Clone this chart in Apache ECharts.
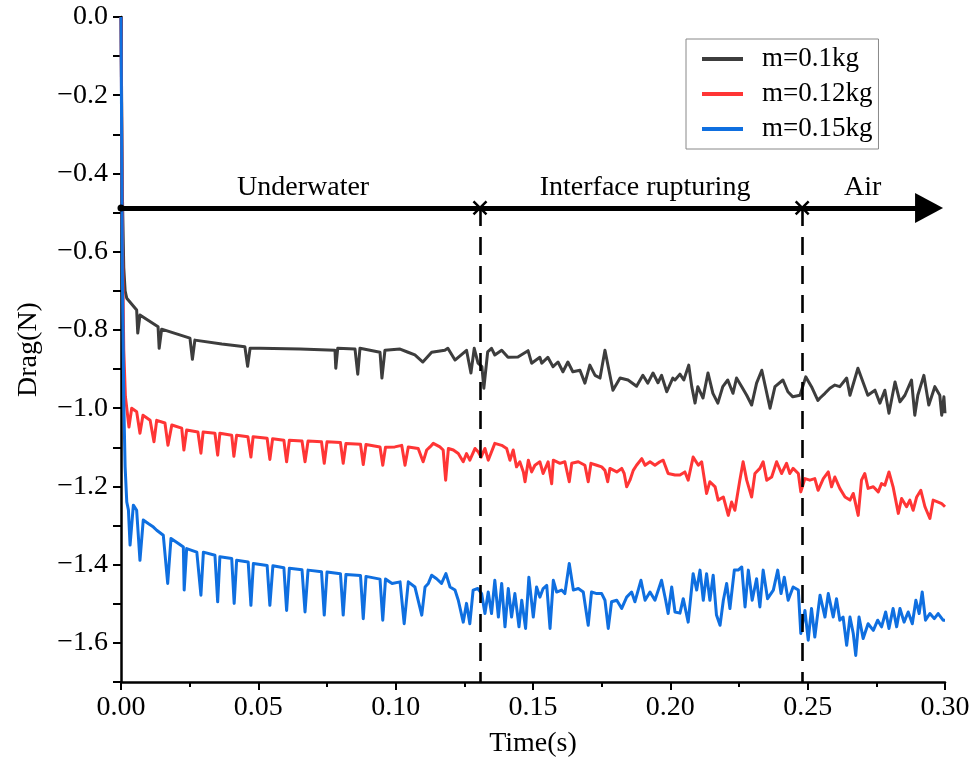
<!DOCTYPE html>
<html><head><meta charset="utf-8">
<script src="https://cdn.jsdelivr.net/npm/echarts@6/dist/echarts.min.js"></script>
<style>html,body{margin:0;padding:0;background:#fff}#c{width:980px;height:767px}</style>
</head><body><div id="c"></div>
<script>
const seriesNames = ['m=0.1kg', 'm=0.12kg', 'm=0.15kg'];
const seriesColors = ['#3d3d3d', '#ff3535', '#0f6fe0'];

const black = [
[0,0],[0.0005,-0.45],[0.0010,-0.64],[0.0015,-0.70],[0.0021,-0.719],[0.0057,-0.749],[0.0061,-0.808],[0.0069,-0.762],
[0.0135,-0.792],[0.0139,-0.847],[0.0148,-0.798],[0.0251,-0.821],[0.0260,-0.875],[0.0269,-0.826],[0.0367,-0.836],
[0.0451,-0.843],[0.0461,-0.893],[0.0470,-0.847],[0.0506,-0.847],[0.0652,-0.849],[0.0779,-0.852],[0.0782,-0.898],
[0.0789,-0.847],[0.0852,-0.849],[0.0862,-0.913],[0.0870,-0.847],[0.0943,-0.857],[0.0950,-0.923],[0.0961,-0.852],
[0.1016,-0.849],[0.1045,-0.857],[0.1070,-0.864],[0.1099,-0.882],[0.1131,-0.857],[0.1179,-0.852],[0.1190,-0.847],
[0.1216,-0.877],[0.1258,-0.852],[0.1274,-0.910],[0.1286,-0.847],[0.1300,-0.885],[0.1314,-0.894],[0.1321,-0.949],
[0.1335,-0.856],[0.1349,-0.847],[0.1361,-0.864],[0.1386,-0.852],[0.1409,-0.870],[0.1445,-0.869],[0.1482,-0.853],
[0.1495,-0.885],[0.1525,-0.870],[0.1532,-0.885],[0.1554,-0.870],[0.1573,-0.894],[0.1591,-0.882],[0.1609,-0.907],
[0.1627,-0.882],[0.1645,-0.907],[0.1671,-0.903],[0.1689,-0.936],[0.1707,-0.890],[0.1726,-0.916],[0.1744,-0.923],
[0.1762,-0.852],[0.1791,-0.954],[0.1817,-0.923],[0.1846,-0.928],[0.1877,-0.944],[0.1900,-0.916],[0.1918,-0.936],
[0.1937,-0.910],[0.1955,-0.935],[0.1968,-0.916],[0.1987,-0.958],[0.2009,-0.923],[0.2017,-0.928],[0.2035,-0.913],
[0.2049,-0.928],[0.2067,-0.890],[0.2078,-0.945],[0.2090,-0.987],[0.2100,-0.945],[0.2119,-0.974],[0.2137,-0.910],
[0.2155,-0.962],[0.2173,-0.987],[0.2191,-0.945],[0.2209,-0.928],[0.2228,-0.962],[0.2241,-0.923],[0.2260,-0.945],
[0.2278,-0.967],[0.2296,-0.992],[0.2314,-0.936],[0.2333,-0.903],[0.2363,-1.000],[0.2381,-0.945],[0.2410,-0.928],
[0.2428,-0.958],[0.2446,-0.971],[0.2472,-0.967],[0.2493,-0.920],[0.2514,-0.945],[0.2537,-0.980],[0.2545,-0.974],
[0.2563,-0.962],[0.2581,-0.949],[0.2599,-0.941],[0.2617,-0.945],[0.2642,-0.923],[0.2654,-0.967],[0.2683,-0.898],
[0.2719,-0.967],[0.2745,-0.954],[0.2763,-0.987],[0.2781,-0.954],[0.2796,-1.013],[0.2818,-0.933],[0.2836,-0.984],
[0.2854,-0.967],[0.2878,-0.928],[0.2890,-1.018],[0.2901,-0.967],[0.2923,-0.916],[0.2941,-0.992],[0.2963,-0.945],
[0.2981,-0.967],[0.2988,-1.018],[0.2996,-0.971],[0.3000,-1.013]
];

const red = [
[0,0],[0.0005,-0.55],[0.0010,-0.85],[0.0016,-0.97],[0.0021,-1.000],[0.0029,-1.048],[0.0039,-1.000],[0.0057,-1.009],
[0.0069,-1.064],[0.0080,-1.018],[0.0106,-1.031],[0.0120,-1.086],[0.0130,-1.031],[0.0160,-1.038],[0.0171,-1.095],
[0.0185,-1.043],[0.0221,-1.051],[0.0229,-1.107],[0.0239,-1.056],[0.0280,-1.061],[0.0291,-1.115],[0.0299,-1.061],
[0.0342,-1.064],[0.0352,-1.120],[0.0360,-1.064],[0.0403,-1.069],[0.0411,-1.123],[0.0421,-1.069],[0.0462,-1.073],
[0.0473,-1.125],[0.0481,-1.073],[0.0532,-1.077],[0.0542,-1.131],[0.0552,-1.078],[0.0593,-1.082],[0.0603,-1.137],
[0.0613,-1.082],[0.0659,-1.084],[0.0670,-1.137],[0.0681,-1.084],[0.0730,-1.086],[0.0740,-1.141],[0.0750,-1.086],
[0.0799,-1.088],[0.0809,-1.141],[0.0819,-1.090],[0.0872,-1.092],[0.0882,-1.144],[0.0892,-1.093],[0.0943,-1.099],
[0.0953,-1.146],[0.0963,-1.100],[0.0997,-1.099],[0.1022,-1.095],[0.1034,-1.146],[0.1046,-1.099],[0.1082,-1.103],
[0.1100,-1.137],[0.1113,-1.107],[0.1125,-1.099],[0.1137,-1.090],[0.1161,-1.099],[0.1173,-1.107],[0.1182,-1.184],
[0.1192,-1.103],[0.1210,-1.107],[0.1228,-1.116],[0.1246,-1.137],[0.1258,-1.116],[0.1270,-1.133],[0.1289,-1.103],
[0.1301,-1.112],[0.1311,-1.125],[0.1325,-1.103],[0.1337,-1.133],[0.1361,-1.090],[0.1386,-1.095],[0.1404,-1.103],
[0.1416,-1.133],[0.1428,-1.107],[0.1440,-1.150],[0.1452,-1.137],[0.1465,-1.163],[0.1471,-1.188],[0.1483,-1.133],
[0.1495,-1.163],[0.1507,-1.146],[0.1525,-1.137],[0.1537,-1.167],[0.1555,-1.137],[0.1568,-1.193],[0.1574,-1.133],
[0.1598,-1.141],[0.1616,-1.137],[0.1632,-1.188],[0.1641,-1.141],[0.1665,-1.137],[0.1689,-1.146],[0.1701,-1.188],
[0.1711,-1.141],[0.1732,-1.146],[0.1750,-1.150],[0.1762,-1.159],[0.1772,-1.188],[0.1780,-1.154],[0.1805,-1.163],
[0.1823,-1.154],[0.1832,-1.167],[0.1841,-1.201],[0.1853,-1.184],[0.1865,-1.159],[0.1877,-1.146],[0.1896,-1.129],
[0.1908,-1.146],[0.1926,-1.137],[0.1944,-1.146],[0.1962,-1.137],[0.1974,-1.133],[0.1992,-1.167],[0.2017,-1.171],
[0.2035,-1.171],[0.2053,-1.163],[0.2065,-1.184],[0.2083,-1.125],[0.2102,-1.146],[0.2114,-1.137],[0.2132,-1.218],
[0.2144,-1.188],[0.2163,-1.201],[0.2174,-1.235],[0.2193,-1.227],[0.2211,-1.274],[0.2223,-1.240],[0.2235,-1.261],
[0.2253,-1.184],[0.2265,-1.137],[0.2278,-1.184],[0.2296,-1.227],[0.2308,-1.167],[0.2326,-1.154],[0.2338,-1.137],
[0.2351,-1.184],[0.2369,-1.176],[0.2387,-1.137],[0.2405,-1.167],[0.2423,-1.141],[0.2435,-1.167],[0.2447,-1.154],
[0.2466,-1.167],[0.2475,-1.214],[0.2490,-1.180],[0.2508,-1.184],[0.2526,-1.180],[0.2538,-1.210],[0.2557,-1.180],
[0.2575,-1.163],[0.2587,-1.201],[0.2599,-1.176],[0.2617,-1.205],[0.2636,-1.227],[0.2654,-1.235],[0.2666,-1.218],
[0.2684,-1.274],[0.2696,-1.184],[0.2708,-1.167],[0.2720,-1.205],[0.2739,-1.201],[0.2757,-1.214],[0.2769,-1.193],
[0.2781,-1.197],[0.2796,-1.163],[0.2811,-1.201],[0.2830,-1.269],[0.2842,-1.231],[0.2860,-1.252],[0.2872,-1.235],
[0.2884,-1.261],[0.2897,-1.227],[0.2912,-1.210],[0.2927,-1.252],[0.2945,-1.282],[0.2957,-1.235],[0.2975,-1.240],
[0.2988,-1.244],[0.3000,-1.252]
];

const blue = [
[0,0],[0.0005,-0.65],[0.0010,-0.98],[0.0015,-1.15],[0.0021,-1.24],[0.0027,-1.26],[0.0033,-1.350],[0.0045,-1.248],
[0.0057,-1.261],[0.0069,-1.389],[0.0081,-1.286],[0.0099,-1.295],[0.0118,-1.304],[0.0130,-1.312],[0.0154,-1.325],
[0.0170,-1.448],[0.0182,-1.333],[0.0209,-1.346],[0.0227,-1.355],[0.0230,-1.465],[0.0239,-1.359],[0.0276,-1.368],
[0.0291,-1.478],[0.0300,-1.368],[0.0342,-1.376],[0.0352,-1.495],[0.0360,-1.380],[0.0403,-1.384],[0.0412,-1.499],
[0.0421,-1.389],[0.0463,-1.393],[0.0473,-1.504],[0.0482,-1.397],[0.0532,-1.402],[0.0542,-1.504],[0.0553,-1.403],
[0.0593,-1.408],[0.0603,-1.517],[0.0613,-1.409],[0.0659,-1.413],[0.0670,-1.521],[0.0681,-1.414],[0.0730,-1.418],
[0.0740,-1.529],[0.0750,-1.419],[0.0799,-1.423],[0.0809,-1.529],[0.0819,-1.425],[0.0872,-1.428],[0.0882,-1.538],
[0.0892,-1.430],[0.0943,-1.437],[0.0953,-1.542],[0.0963,-1.437],[0.0987,-1.448],[0.1016,-1.444],[0.1031,-1.551],
[0.1046,-1.444],[0.1070,-1.457],[0.1095,-1.529],[0.1107,-1.457],[0.1119,-1.448],[0.1131,-1.427],[0.1149,-1.436],
[0.1167,-1.448],[0.1183,-1.423],[0.1198,-1.457],[0.1216,-1.465],[0.1228,-1.491],[0.1246,-1.547],[0.1258,-1.499],
[0.1270,-1.551],[0.1282,-1.465],[0.1299,-1.461],[0.1313,-1.474],[0.1325,-1.525],[0.1337,-1.470],[0.1349,-1.525],
[0.1361,-1.440],[0.1374,-1.534],[0.1386,-1.448],[0.1398,-1.559],[0.1410,-1.461],[0.1422,-1.534],[0.1434,-1.474],
[0.1449,-1.559],[0.1459,-1.491],[0.1473,-1.563],[0.1485,-1.432],[0.1501,-1.534],[0.1513,-1.457],[0.1525,-1.483],
[0.1537,-1.461],[0.1550,-1.453],[0.1562,-1.563],[0.1574,-1.440],[0.1586,-1.470],[0.1604,-1.465],[0.1616,-1.474],
[0.1632,-1.397],[0.1647,-1.465],[0.1665,-1.461],[0.1683,-1.470],[0.1701,-1.555],[0.1713,-1.470],[0.1732,-1.474],
[0.1750,-1.474],[0.1762,-1.491],[0.1774,-1.563],[0.1786,-1.495],[0.1805,-1.491],[0.1823,-1.512],[0.1841,-1.483],
[0.1859,-1.470],[0.1871,-1.495],[0.1893,-1.440],[0.1908,-1.491],[0.1926,-1.470],[0.1944,-1.491],[0.1968,-1.440],
[0.1983,-1.491],[0.1992,-1.525],[0.2005,-1.457],[0.2017,-1.521],[0.2035,-1.524],[0.2047,-1.487],[0.2065,-1.547],
[0.2083,-1.423],[0.2096,-1.465],[0.2108,-1.414],[0.2120,-1.491],[0.2132,-1.423],[0.2144,-1.491],[0.2156,-1.427],
[0.2168,-1.529],[0.2181,-1.555],[0.2193,-1.491],[0.2205,-1.448],[0.2217,-1.512],[0.2233,-1.414],[0.2247,-1.414],
[0.2260,-1.406],[0.2272,-1.508],[0.2284,-1.414],[0.2298,-1.491],[0.2314,-1.436],[0.2326,-1.508],[0.2338,-1.414],
[0.2354,-1.487],[0.2375,-1.465],[0.2391,-1.414],[0.2403,-1.474],[0.2415,-1.432],[0.2429,-1.491],[0.2447,-1.457],
[0.2466,-1.465],[0.2475,-1.576],[0.2490,-1.517],[0.2502,-1.593],[0.2514,-1.512],[0.2526,-1.585],[0.2545,-1.478],
[0.2563,-1.534],[0.2575,-1.474],[0.2593,-1.534],[0.2605,-1.487],[0.2617,-1.542],[0.2629,-1.534],[0.2642,-1.606],
[0.2654,-1.534],[0.2666,-1.576],[0.2675,-1.632],[0.2687,-1.534],[0.2702,-1.589],[0.2720,-1.551],[0.2739,-1.568],
[0.2755,-1.542],[0.2769,-1.559],[0.2784,-1.521],[0.2796,-1.563],[0.2811,-1.512],[0.2824,-1.559],[0.2836,-1.512],
[0.2851,-1.547],[0.2866,-1.521],[0.2881,-1.551],[0.2894,-1.491],[0.2906,-1.525],[0.2917,-1.470],[0.2929,-1.542],
[0.2945,-1.525],[0.2961,-1.538],[0.2975,-1.525],[0.2993,-1.542],[0.3000,-1.542]
];

// axes
const xMin = 0, xMax = 0.30, xStep = 0.05;
const yMin = -1.7, yMax = 0, yStep = 0.1;

// phase annotations
const phaseBounds = [0.1307, 0.248];
const arrowLevel = -0.488;
const arrowStart = 0, arrowEnd = 0.2942;
const labelLevel = -0.437;
const phaseLabels = ['Underwater', 'Interface rupturing', 'Air'];
const phaseLabelX = [0.0663, 0.1908, 0.2700];

const FONT = 'Liberation Serif';
const FS = 28;
const chart = echarts.init(document.getElementById('c'), null, {renderer: 'canvas'});

const dataSeries = [black, red, blue].map((d, i) => ({
  name: seriesNames[i], type: 'line', data: d, showSymbol: false, symbol: 'none',
  lineStyle: {color: seriesColors[i], width: 3, join: 'round'},
  itemStyle: {color: seriesColors[i]}, z: 2 + i
}));

const markLines = [
  [{coord: [arrowStart, arrowLevel], symbol: 'circle', symbolSize: 7,
    lineStyle: {color: '#000', width: 5, type: 'solid'}},
   {coord: [arrowEnd, arrowLevel], symbol: 'triangle', symbolSize: [30, 28]}]
].concat(phaseBounds.map(b => [
  {coord: [b, arrowLevel], symbol: 'none', lineStyle: {color: '#000', width: 2.6, type: [18, 11]}},
  {coord: [b, yMin], symbol: 'none'}
]));

const markPoints = phaseBounds.map(b => ({
  coord: [b, arrowLevel], symbol: 'path://M0,0L10,10M10,0L0,10', symbolSize: 13,
  itemStyle: {color: 'none', borderColor: '#000', borderWidth: 2.5}, label: {show: false}
})).concat(phaseLabels.map((t, i) => ({
  coord: [phaseLabelX[i], labelLevel], symbol: 'circle', symbolSize: 1, name: t,
  itemStyle: {color: 'rgba(0,0,0,0)'},
  label: {show: true, position: 'inside', formatter: t, color: '#000', fontFamily: FONT, fontSize: FS}
})));

const annot = {
  name: 'annot', type: 'line', data: [], silent: true, z: 10,
  markLine: {silent: true, animation: false, symbol: ['none', 'none'], label: {show: false},
    emphasis: {disabled: true}, data: markLines},
  markPoint: {silent: true, animation: false, data: markPoints}
};

chart.setOption({
  animation: false,
  backgroundColor: '#fff',
  grid: {left: 121, right: 35, top: 17, bottom: 85, containLabel: false},
  legend: {
    data: seriesNames, orient: 'vertical', left: 686, top: 39,
    icon: 'rect', itemWidth: 41, itemHeight: 4, itemGap: 5,
    borderColor: '#888', borderWidth: 1, padding: [5, 6, 5, 16],
    textStyle: {fontFamily: FONT, fontSize: 27, color: '#000', lineHeight: 30, padding: [0, 0, 0, 14]}
  },
  xAxis: {
    type: 'value', min: xMin, max: xMax, interval: xStep,
    name: 'Time(s)', nameLocation: 'middle', nameGap: 48,
    nameTextStyle: {fontFamily: FONT, fontSize: FS, color: '#000'},
    axisLine: {onZero: false, lineStyle: {color: '#000', width: 2.5}},
    axisTick: {inside: false, length: 8, lineStyle: {color: '#000', width: 2}},
    minorTick: {show: true, splitNumber: 2, length: 5, lineStyle: {color: '#000', width: 2}},
    splitLine: {show: false},
    axisLabel: {fontFamily: FONT, fontSize: FS, color: '#000', margin: 12,
      formatter: v => v.toFixed(2)}
  },
  yAxis: {
    type: 'value', min: yMin, max: yMax, interval: yStep,
    name: 'Drag(N)', nameLocation: 'middle', nameGap: 78,
    nameTextStyle: {fontFamily: FONT, fontSize: FS, color: '#000'},
    axisLine: {onZero: false, lineStyle: {color: '#000', width: 2.5}},
    axisTick: {inside: false, length: 8, lineStyle: {color: '#000', width: 2}},
    splitLine: {show: false},
    axisLabel: {fontFamily: FONT, fontSize: FS, color: '#000', margin: 13,
      formatter: v => {
        const r = Math.round(v * 10);
        if (r % 2 !== 0) return '';
        return r === 0 ? '0.0' : '\u2212' + (Math.abs(r) / 10).toFixed(1);
      }}
  },
  series: dataSeries.concat([annot])
});
</script>
</body></html>
